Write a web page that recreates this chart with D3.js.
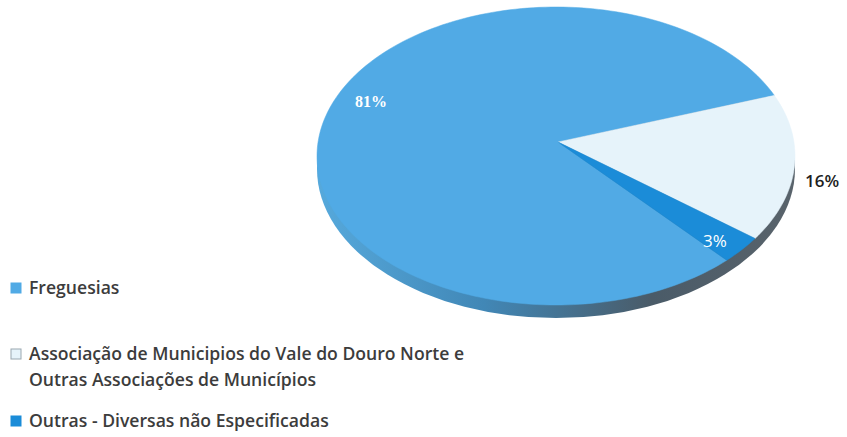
<!DOCTYPE html>
<html>
<head>
<meta charset="utf-8">
<script src="https://cdn.jsdelivr.net/npm/d3@7"></script>
<style>
  body { margin: 0; background: #fff; }
  svg { display: block; }
</style>
</head>
<body>
<script>
// data
var categories = ["Freguesias",
    "Associação de Municipios do Vale do Douro Norte e|Outras Associações de Municípios",
    "Outras - Diversas não Especificadas"];
var values = [81, 16, 3];
var valueLabels = ["81%", "16%", "3%"];
var colors = ["#51aae5", "#e6f3fa", "#1b8cd8"];

var width = 847, height = 437;

// pie geometry (tilted disc)
var cx = 556, cy = 156, rx = 239, ry = 149, depth = 13;
var apex = [558, 142];

var svg = d3.select("body").append("svg")
    .attr("width", width)
    .attr("height", height);

var defs = svg.append("defs");
var grad = defs.append("linearGradient").attr("id", "side")
    .attr("x1", "0%").attr("x2", "100%").attr("y1", "0%").attr("y2", "0%");
grad.append("stop").attr("offset", "0%").attr("stop-color", "#56a9dc");
grad.append("stop").attr("offset", "35%").attr("stop-color", "#4187b6");
grad.append("stop").attr("offset", "70%").attr("stop-color", "#4a5b68");
grad.append("stop").attr("offset", "100%").attr("stop-color", "#59636b");

// side of the disc
svg.append("ellipse")
    .attr("cx", cx).attr("cy", cy + depth)
    .attr("rx", rx).attr("ry", ry)
    .style("fill", "url(#side)");

var pie = d3.pie().sort(null)
    .startAngle(134.4 * Math.PI / 180)
    .endAngle(134.4 * Math.PI / 180 + 2 * Math.PI);

var arcs = pie(values);

function ept(a) {
    return [cx + rx * Math.sin(a), cy - ry * Math.cos(a)];
}

function slicePath(d) {
    var n = Math.max(4, Math.ceil((d.endAngle - d.startAngle) * 40));
    var pts = d3.range(n + 1).map(function (i) {
        return ept(d.startAngle + (d.endAngle - d.startAngle) * i / n);
    });
    return d3.line()([apex].concat(pts)) + "Z";
}

svg.selectAll("path.slice")
    .data(arcs)
    .enter().append("path")
    .attr("class", "slice")
    .attr("d", slicePath)
    .style("fill", function (d, i) { return colors[i]; })
    .style("stroke", function (d, i) { return colors[i]; })
    .style("stroke-width", 0.5);

// value labels
var labelPos = [[371, 107], [822, 187], [715, 247]];
var labelCol = ["#ffffff", "#1e1e1e", "#ffffff"];
var labelSize = ["16px", "17px", "17px"];
var labelWeight = ["bold", "600", "normal"];
svg.selectAll("text.val")
    .data(arcs)
    .enter().append("text")
    .attr("class", "val")
    .attr("x", function (d, i) { return labelPos[i][0]; })
    .attr("y", function (d, i) { return labelPos[i][1]; })
    .attr("text-anchor", "middle")
    .attr("font-family", function (d, i) { return i == 0 ? "'Liberation Serif', serif" : "'Open Sans', sans-serif"; })
    .attr("font-size", function (d, i) { return labelSize[i]; })
    .attr("font-weight", function (d, i) { return labelWeight[i]; })
    .style("fill", function (d, i) { return labelCol[i]; })
    .text(function (d, i) { return valueLabels[i]; });

// legend
var legendY = [288, 354, 421];
var lg = svg.selectAll("g.legend")
    .data(categories)
    .enter().append("g")
    .attr("class", "legend")
    .attr("transform", function (d, i) { return "translate(11," + legendY[i] + ")"; });

lg.append("rect")
    .attr("x", 0).attr("y", -5)
    .attr("width", 10).attr("height", 10)
    .style("fill", function (d, i) { return colors[i]; })
    .style("stroke", function (d, i) { return i == 1 ? "#9aa7b0" : colors[i]; })
    .style("stroke-width", 1);

lg.append("text")
    .attr("x", 18)
    .attr("y", 6)
    .attr("font-family", "'Open Sans', sans-serif")
    .attr("font-size", "17.6px")
    .attr("font-weight", "600")
    .style("fill", "#3c3c3c")
    .each(function (d) {
        var t = d3.select(this);
        d.split("|").forEach(function (line, k) {
            t.append("tspan").attr("x", 18).attr("dy", k == 0 ? 0 : 26).text(line);
        });
    });
</script>
</body>
</html>
